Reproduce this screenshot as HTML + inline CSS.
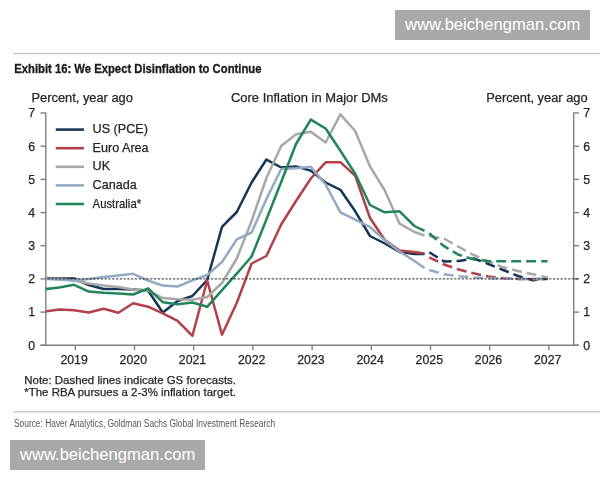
<!DOCTYPE html>
<html><head><meta charset="utf-8"><title>Exhibit 16</title>
<style>
html,body{margin:0;padding:0;background:#fff;}
body{width:600px;height:480px;overflow:hidden;position:relative;}
svg{position:absolute;left:0;top:0;filter:blur(0.4px);}
.t{font-family:"Liberation Sans",Arial,sans-serif;}
.s{stroke:#262626;stroke-width:0.25px;}
</style></head><body>
<svg width="600" height="480" viewBox="0 0 600 480">
<defs><clipPath id="pc"><rect x="45.8" y="100" width="527.9000000000001" height="250"/></clipPath></defs>
<rect x="395" y="10" width="195" height="30" fill="#a9a9a9"/>
<text class="t" x="405" y="29.8" font-size="16.6" fill="#fff">www.beichengman.com</text>
<line x1="13" y1="53.6" x2="600" y2="53.6" stroke="#c9c9c9" stroke-width="1.5"/>
<text class="t" x="14.2" y="73.3" font-size="13.6" font-weight="bold" fill="#1c1c1c" stroke="#1c1c1c" stroke-width="0.35" transform="translate(14.2 0) scale(0.83 1) translate(-14.2 0)">Exhibit 16: We Expect Disinflation to Continue</text>
<g class="t s" font-size="12.85" fill="#262626">
<text x="31.5" y="102">Percent, year ago</text>
<text x="231.0" y="102" font-size="12.95">Core Inflation in Major DMs</text>
<text x="587.6" y="102" text-anchor="end">Percent, year ago</text>
</g>
<g stroke="#808080" stroke-width="1.4" fill="none">
<line x1="45.8" y1="112.4" x2="45.8" y2="345.3" />
<line x1="573.7" y1="112.4" x2="573.7" y2="345.3" />
<line x1="40.5" y1="345.3" x2="579" y2="345.3" />
<line x1="40.5" y1="345.3" x2="45.8" y2="345.3" />
<line x1="573.7" y1="345.3" x2="579" y2="345.3" />
<line x1="40.5" y1="312.1" x2="45.8" y2="312.1" />
<line x1="573.7" y1="312.1" x2="579" y2="312.1" />
<line x1="40.5" y1="278.9" x2="45.8" y2="278.9" />
<line x1="573.7" y1="278.9" x2="579" y2="278.9" />
<line x1="40.5" y1="245.7" x2="45.8" y2="245.7" />
<line x1="573.7" y1="245.7" x2="579" y2="245.7" />
<line x1="40.5" y1="212.6" x2="45.8" y2="212.6" />
<line x1="573.7" y1="212.6" x2="579" y2="212.6" />
<line x1="40.5" y1="179.4" x2="45.8" y2="179.4" />
<line x1="573.7" y1="179.4" x2="579" y2="179.4" />
<line x1="40.5" y1="146.2" x2="45.8" y2="146.2" />
<line x1="573.7" y1="146.2" x2="579" y2="146.2" />
<line x1="40.5" y1="113.0" x2="45.8" y2="113.0" />
<line x1="573.7" y1="113.0" x2="579" y2="113.0" />
<line x1="75.3" y1="345.3" x2="75.3" y2="350.3" />
<line x1="134.5" y1="345.3" x2="134.5" y2="350.3" />
<line x1="193.7" y1="345.3" x2="193.7" y2="350.3" />
<line x1="252.9" y1="345.3" x2="252.9" y2="350.3" />
<line x1="312.1" y1="345.3" x2="312.1" y2="350.3" />
<line x1="371.3" y1="345.3" x2="371.3" y2="350.3" />
<line x1="430.5" y1="345.3" x2="430.5" y2="350.3" />
<line x1="489.7" y1="345.3" x2="489.7" y2="350.3" />
<line x1="548.9" y1="345.3" x2="548.9" y2="350.3" />
</g>
<g class="t s" font-size="12.3" fill="#262626">
<text x="35" y="349.6" text-anchor="end">0</text>
<text x="583.3" y="349.6">0</text>
<text x="35" y="316.4" text-anchor="end">1</text>
<text x="583.3" y="316.4">1</text>
<text x="35" y="283.2" text-anchor="end">2</text>
<text x="583.3" y="283.2">2</text>
<text x="35" y="250.0" text-anchor="end">3</text>
<text x="583.3" y="250.0">3</text>
<text x="35" y="216.9" text-anchor="end">4</text>
<text x="583.3" y="216.9">4</text>
<text x="35" y="183.7" text-anchor="end">5</text>
<text x="583.3" y="183.7">5</text>
<text x="35" y="150.5" text-anchor="end">6</text>
<text x="583.3" y="150.5">6</text>
<text x="35" y="117.3" text-anchor="end">7</text>
<text x="583.3" y="117.3">7</text>
<text x="74.1" y="364.2" text-anchor="middle">2019</text>
<text x="133.3" y="364.2" text-anchor="middle">2020</text>
<text x="192.5" y="364.2" text-anchor="middle">2021</text>
<text x="251.7" y="364.2" text-anchor="middle">2022</text>
<text x="310.9" y="364.2" text-anchor="middle">2023</text>
<text x="370.1" y="364.2" text-anchor="middle">2024</text>
<text x="429.3" y="364.2" text-anchor="middle">2025</text>
<text x="488.5" y="364.2" text-anchor="middle">2026</text>
<text x="547.7" y="364.2" text-anchor="middle">2027</text>
</g>
<g clip-path="url(#pc)" fill="none" stroke-width="2.5" stroke-linejoin="round" stroke-linecap="butt">
<polyline points="44.4,278.0 59.2,278.5 74.0,278.5 88.8,285.0 103.6,289.0 118.4,289.0 133.2,289.5 148.0,290.5 162.8,312.5 177.6,301.0 192.4,296.0 207.2,280.0 222.0,226.8 236.8,212.0 251.6,182.5 266.4,159.5 281.2,167.5 296.0,166.5 310.8,170.6 325.6,182.5 340.4,189.8 355.2,211.3 370.0,236.0 384.8,243.5 399.6,252.0 414.4,254.0 424.5,254.0" stroke="#173556"/>
<polyline points="44.4,311.7 59.2,309.5 74.0,310.3 88.8,312.5 103.6,308.8 118.4,312.8 133.2,303.3 148.0,306.7 162.8,313.3 177.6,320.8 192.4,335.8 207.2,280.5 222.0,334.7 236.8,302.7 251.6,263.5 266.4,256.0 281.2,224.5 296.0,201.0 310.8,178.5 325.6,162.3 340.4,162.2 355.2,175.8 370.0,218.0 384.8,240.0 399.6,250.5 414.4,252.0 424.5,253.5" stroke="#b2404a"/>
<polyline points="44.4,278.5 59.2,279.0 74.0,280.5 88.8,283.5 103.6,285.6 118.4,286.9 133.2,289.5 148.0,290.5 162.8,298.1 177.6,299.2 192.4,299.7 207.2,297.0 222.0,283.0 236.8,258.5 251.6,221.0 266.4,178.0 281.2,146.0 296.0,134.2 310.8,131.7 325.6,142.5 340.4,114.4 355.2,131.0 370.0,166.5 384.8,190.4 399.6,223.7 414.4,232.0 424.5,235.5" stroke="#a8a8a8"/>
<polyline points="44.4,279.0 59.2,279.5 74.0,280.5 88.8,279.0 103.6,277.0 118.4,275.5 133.2,273.8 148.0,280.5 162.8,285.6 177.6,286.5 192.4,280.4 207.2,275.0 222.0,262.0 236.8,239.4 251.6,232.5 266.4,199.0 281.2,169.0 296.0,168.3 310.8,166.8 325.6,184.5 340.4,212.3 355.2,219.6 370.0,227.0 384.8,240.4 399.6,251.5 414.4,261.0 424.5,268.0" stroke="#94a9c2"/>
<polyline points="44.4,289.2 59.2,287.5 74.0,284.8 88.8,291.6 103.6,292.8 118.4,293.5 133.2,294.5 148.0,288.5 162.8,302.2 177.6,304.2 192.4,302.5 207.2,306.8 222.0,290.2 236.8,273.6 251.6,256.5 266.4,219.5 281.2,182.0 296.0,144.0 310.8,119.6 325.6,128.5 340.4,150.8 355.2,173.7 370.0,205.0 384.8,212.3 399.6,211.3 414.4,226.0 424.5,230.9" stroke="#21855a"/>
<polyline points="429.2,252.2 444.0,261.4 458.8,261.0 473.6,258.5 488.4,264.0 503.2,270.0 518.0,276.0 532.8,280.3 547.6,278.7" stroke="#173556" stroke-dasharray="10 5"/>
<polyline points="429.2,257.3 444.0,264.5 458.8,269.5 473.6,273.3 488.4,276.5 503.2,278.3 518.0,278.9 532.8,278.9 547.6,278.9" stroke="#b2404a" stroke-dasharray="10 5"/>
<polyline points="429.2,236.0 444.0,238.5 458.8,247.0 473.6,255.0 488.4,261.3 503.2,267.3 518.0,271.0 532.8,274.3 547.6,277.5" stroke="#a8a8a8" stroke-dasharray="10 5"/>
<polyline points="429.2,270.0 444.0,274.3 458.8,276.3 473.6,277.5 488.4,278.3 503.2,278.7 518.0,278.9 532.8,278.9 547.6,278.9" stroke="#94a9c2" stroke-dasharray="10 5"/>
<polyline points="429.2,233.2 444.0,246.2 458.8,254.8 473.6,259.4 488.4,261.2 503.2,261.2 518.0,261.2 532.8,261.2 547.6,261.2" stroke="#21855a" stroke-dasharray="10 5"/>
</g>
<line x1="45.8" y1="278.9" x2="578.5" y2="278.9" stroke="#2a2a2a" stroke-width="1" stroke-dasharray="2.3 1.5" stroke-dashoffset="2.05"/>
<g class="t s" font-size="12.6" fill="#262626">
<line x1="55.7" y1="129.6" x2="83.9" y2="129.6" stroke="#173556" stroke-width="2.6"/>
<text x="92.6" y="133.2">US (PCE)</text>
<line x1="55.7" y1="148.2" x2="83.9" y2="148.2" stroke="#b2404a" stroke-width="2.6"/>
<text x="92.6" y="151.8">Euro Area</text>
<line x1="55.7" y1="166.8" x2="83.9" y2="166.8" stroke="#a8a8a8" stroke-width="2.6"/>
<text x="92.6" y="170.4">UK</text>
<line x1="55.7" y1="185.4" x2="83.9" y2="185.4" stroke="#94a9c2" stroke-width="2.6"/>
<text x="92.6" y="189.0">Canada</text>
<line x1="55.7" y1="204.0" x2="83.9" y2="204.0" stroke="#21855a" stroke-width="2.6"/>
<text x="92.6" y="207.6" textLength="48.5" lengthAdjust="spacingAndGlyphs">Australia*</text>
</g>
<g class="t s" font-size="11.45" fill="#262626">
<text x="24.3" y="383.6">Note: Dashed lines indicate GS forecasts.</text>
<text x="24.3" y="395.6">*The RBA pursues a 2-3% inflation target.</text>
</g>
<line x1="13" y1="411.8" x2="600" y2="411.8" stroke="#cdcdcd" stroke-width="1.5"/>
<text class="t" x="14" y="427.3" font-size="11.3" fill="#555" transform="translate(14 0) scale(0.742 1) translate(-14 0)">Source: Haver Analytics, Goldman Sachs Global Investment Research</text>
<rect x="10" y="440" width="195" height="30" fill="#a9a9a9"/>
<text class="t" x="20" y="459.8" font-size="16.6" fill="#fff">www.beichengman.com</text>
</svg>
</body></html>
